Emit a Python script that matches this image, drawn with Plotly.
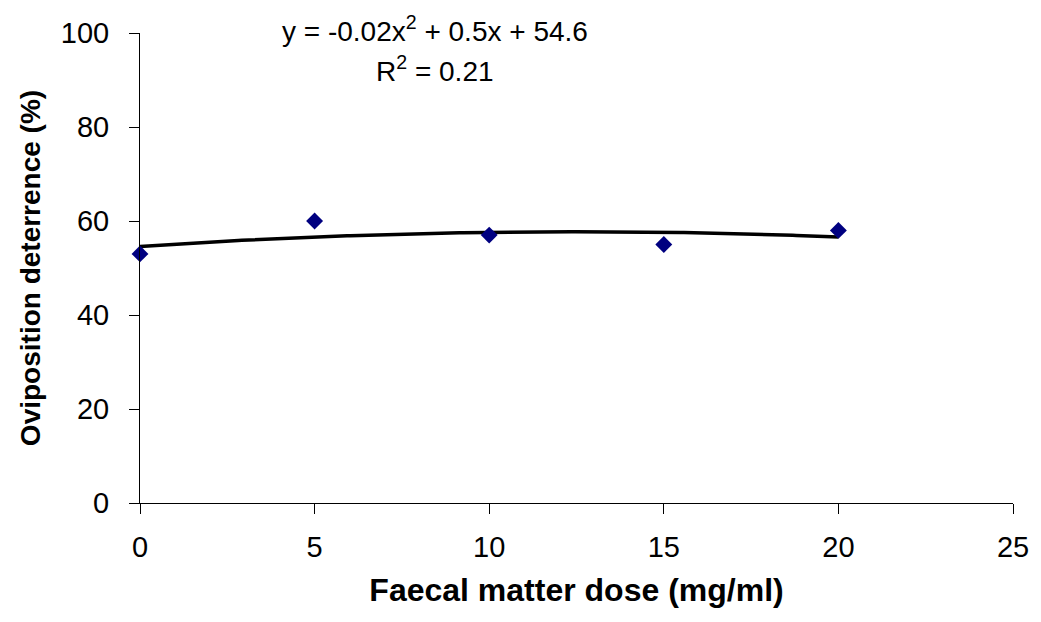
import numpy as np
import plotly.graph_objects as go

# Observed oviposition deterrence at each faecal matter dose
dose = [0, 5, 10, 15, 20]
deterrence = [53, 60, 57, 55, 58]

x_ticks = [0, 5, 10, 15, 20, 25]
y_ticks = [0, 20, 40, 60, 80, 100]

# Second-order polynomial trendline fitted to the observations
coef = np.polyfit(dose, deterrence, 2)
fit = np.poly1d(coef)
pred = fit(np.array(dose, dtype=float))
ss_res = float(np.sum((np.array(deterrence) - pred) ** 2))
ss_tot = float(np.sum((np.array(deterrence) - np.mean(deterrence)) ** 2))
r2 = 1 - ss_res / ss_tot

x_fit = np.linspace(min(dose), max(dose), 200)
y_fit = fit(x_fit)

font_family = "Liberation Sans, Arial, sans-serif"

fig = go.Figure()
fig.add_trace(go.Scatter(
    x=x_fit, y=y_fit, mode="lines",
    line=dict(color="black", width=3.5),
    hoverinfo="skip", showlegend=False,
))
fig.add_trace(go.Scatter(
    x=dose, y=deterrence, mode="markers",
    marker=dict(symbol="diamond", size=13, color="#000080"),
    cliponaxis=False, showlegend=False,
))

a, b, c = coef
eq_text = f"y = {a:.2f}x<sup>2</sup> + {b:.1f}x + {c:.1f}"
r2_text = f"R<sup>2</sup> = {r2:.2f}"

fig.add_annotation(x=8.45, y=1.008, xref="x", yref="paper", text=eq_text,
                   showarrow=False, font=dict(family=font_family, size=28, color="black"),
                   xanchor="center", yanchor="middle")
fig.add_annotation(x=8.45, y=0.924, xref="x", yref="paper", text=r2_text,
                   showarrow=False, font=dict(family=font_family, size=28, color="black"),
                   xanchor="center", yanchor="middle")

axis_common = dict(
    showgrid=False, zeroline=False, showline=True, linecolor="black", linewidth=1,
    ticks="outside", ticklen=10, tickcolor="black", tickwidth=1,
    tickfont=dict(family=font_family, size=29, color="black"),
)

fig.update_xaxes(
    range=[0, 25], tickvals=x_ticks, ticktext=[str(v) for v in x_ticks],
    ticklabelstandoff=8,
    title=dict(text="<b>Faecal matter dose (mg/ml)</b>",
               font=dict(family=font_family, size=32, color="black"), standoff=16),
    **axis_common,
)
fig.update_yaxes(
    range=[0, 100], tickvals=y_ticks, ticktext=[str(v) for v in y_ticks],
    ticklabelstandoff=14,
    title=dict(text="<b>Oviposition deterrence (%)</b>",
               font=dict(family=font_family, size=28, color="black"), standoff=12),
    **axis_common,
)

fig.update_layout(
    width=1041, height=622,
    margin=dict(l=140, r=26, t=33, b=119),
    plot_bgcolor="white", paper_bgcolor="white",
)

fig.write_html("out.html")
